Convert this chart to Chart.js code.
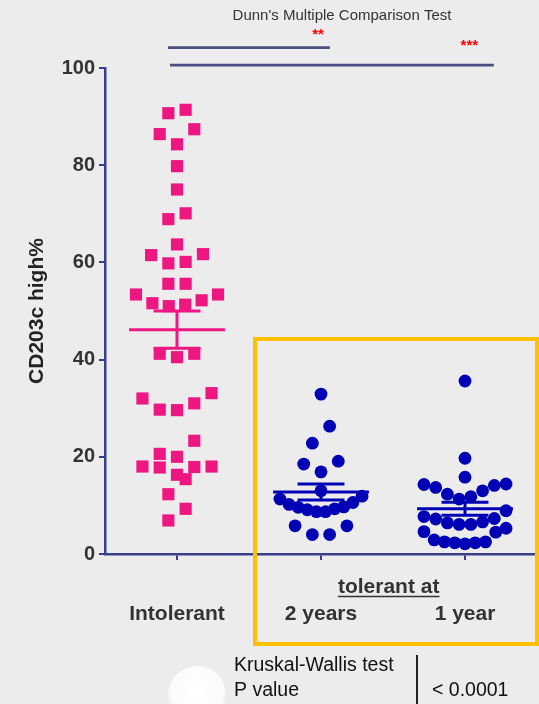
<!DOCTYPE html>
<html>
<head>
<meta charset="utf-8">
<script src="https://cdn.jsdelivr.net/npm/chart.js@4.4.1/dist/chart.umd.min.js"></script>
<style>
  html, body { margin: 0; padding: 0; background: #EDECED; }
  #wrap { position: relative; width: 539px; height: 704px; overflow: hidden; background: #EDECED; }
  #knob { position: absolute; left: 168px; top: 666px; width: 58px; height: 56px; border-radius: 50%;
          background: radial-gradient(circle at 50% 45%, #ffffff 0%, #fbfbfb 62%, #dcdcdc 85%, rgba(237,236,237,0) 100%); }
  canvas { position: absolute; left: 0; top: 0; }
</style>
</head>
<body>
<div id="wrap">
  <div id="knob"></div>
  <canvas id="chart" width="539" height="704"></canvas>
</div>
<script>
// Groups along the x axis
const categories = ['Intolerant', '2 years', '1 year'];

// CD203c high% per subject
const intolerant = [
  91.4, 90.7, 87.4, 86.4, 84.3, 79.8, 75.0, 70.1, 68.9,
  63.7, 61.7, 61.5, 60.1, 59.8, 55.6, 55.6, 53.4, 53.4, 52.2, 51.6, 51.3, 51.0,
  41.2, 41.2, 40.5,
  33.1, 32.0, 31.0, 29.7, 29.6, 23.3, 20.6, 20.0,
  18.0, 18.0, 17.9, 17.8, 16.3, 15.4, 12.3, 9.3, 6.9
];
const tolerant2y = [
  32.9, 26.3, 22.8, 19.1, 18.5, 16.9, 13.0, 11.9, 11.3,
  10.6, 10.2, 9.7, 9.6, 9.3, 9.1, 8.7, 8.7,
  5.8, 5.8, 4.0, 4.0
];
const tolerant1y = [
  35.6, 19.7, 15.8,
  14.4, 14.3, 14.1, 13.7, 13.0, 12.3, 11.8, 11.3,
  8.9, 7.7, 7.3, 7.2, 6.6, 6.4, 6.1, 6.1,
  5.3, 4.6, 4.5, 2.9, 2.5, 2.5, 2.3, 2.3, 2.1
];

const yTicks = [0, 20, 40, 60, 80, 100];

const PINK = '#EE1782';
const BLUE = '#0000B4';
const AXIS = '#383E8C';
const FONT = '"Liberation Sans", Arial, Helvetica, sans-serif';

// Column-scatter layout: values closer than ROW_BAND share a row and are
// spread sideways from the column centre, smallest values innermost.
const ROW_BAND = 3.6;
const STEP = 0.12;
const MAX_SPAN = 0.57;

function columnScatter(values, center) {
  const sorted = [...values].sort((a, b) => a - b);
  const rows = [];
  let row = null;
  for (const v of sorted) {
    if (!row || v - row[0] > ROW_BAND) { row = [v]; rows.push(row); }
    else row.push(v);
  }
  const pts = [];
  for (const r of rows) {
    const n = r.length;
    const step = n > 1 ? Math.min(STEP, MAX_SPAN / (n - 1)) : 0;
    r.forEach((v, i) => {
      let slot;
      if (n % 2) slot = i === 0 ? 0 : (i % 2 ? -1 : 1) * Math.ceil(i / 2);
      else slot = (i % 2 ? 1 : -1) * (Math.floor(i / 2) + 0.5);
      pts.push({ x: center + slot * step, y: v });
    });
  }
  return pts;
}

// Mean line with SEM whiskers, as one broken polyline
const MEAN_HALF = 0.333;
const CAP_HALF = 0.163;
function meanSem(values, center) {
  const n = values.length;
  const mean = values.reduce((a, b) => a + b, 0) / n;
  const sd = Math.sqrt(values.reduce((a, b) => a + (b - mean) ** 2, 0) / (n - 1));
  const sem = sd / Math.sqrt(n);
  return [
    { x: center - MEAN_HALF, y: mean }, { x: center + MEAN_HALF, y: mean }, { x: center, y: null },
    { x: center - CAP_HALF, y: mean + sem }, { x: center + CAP_HALF, y: mean + sem }, { x: center, y: null },
    { x: center - CAP_HALF, y: mean - sem }, { x: center + CAP_HALF, y: mean - sem }, { x: center, y: null },
    { x: center, y: mean - sem }, { x: center, y: mean + sem }
  ];
}

const groups = [
  { values: intolerant, color: PINK, style: 'rect', radius: 8.6 },
  { values: tolerant2y, color: BLUE, style: 'circle', radius: 6.4 },
  { values: tolerant1y, color: BLUE, style: 'circle', radius: 6.4 }
];

const datasets = [];
groups.forEach((g, i) => {
  datasets.push({
    data: columnScatter(g.values, i),
    pointStyle: g.style, pointRadius: g.radius,
    backgroundColor: g.color, borderColor: g.color, borderWidth: 0,
    order: 2
  });
  datasets.push({
    data: meanSem(g.values, i),
    showLine: true, spanGaps: false, pointRadius: 0,
    borderColor: g.color, borderWidth: 3, borderCapStyle: 'butt',
    order: 1
  });
});

// Annotations: test title, significance bars, grouping box, test table
const annotations = {
  id: 'annotations',
  afterDraw(chart) {
    const { ctx, scales: { x, y } } = chart;
    ctx.save();

    ctx.fillStyle = '#333333';
    ctx.font = '15px ' + FONT;
    ctx.textAlign = 'center';
    ctx.textBaseline = 'middle';
    ctx.fillText("Dunn's Multiple Comparison Test", 342, 16);

    ctx.strokeStyle = '#4B4F80';
    ctx.lineWidth = 2.6;
    const bars = [
      { from: -0.062, to: 1.062, level: 104.2, stars: '**', sx: 0.98, sy: 35 },
      { from: -0.049, to: 2.2, level: 100.6, stars: '***', sx: 2.03, sy: 46 }
    ];
    for (const b of bars) {
      const py = y.getPixelForValue(b.level);
      ctx.beginPath();
      ctx.moveTo(x.getPixelForValue(b.from), py);
      ctx.lineTo(x.getPixelForValue(b.to), py);
      ctx.stroke();
      ctx.fillStyle = '#FF0000';
      ctx.font = 'bold 15px ' + FONT;
      ctx.fillText(b.stars, x.getPixelForValue(b.sx), b.sy);
    }

    // "tolerant at" heading over the two tolerant groups
    ctx.fillStyle = '#333333';
    ctx.font = 'bold 21px ' + FONT;
    const hx = x.getPixelForValue(1.47);
    ctx.fillText('tolerant at', hx, 587);
    const hw = ctx.measureText('tolerant at').width;
    ctx.strokeStyle = '#333333';
    ctx.lineWidth = 1.5;
    ctx.beginPath();
    ctx.moveTo(hx - hw / 2, 596.5);
    ctx.lineTo(hx + hw / 2, 596.5);
    ctx.stroke();

    ctx.strokeStyle = '#FFC000';
    ctx.lineWidth = 4;
    ctx.strokeRect(255, 339, 282, 305);

    // Kruskal-Wallis summary
    ctx.fillStyle = '#111111';
    ctx.font = '19.5px ' + FONT;
    ctx.textAlign = 'left';
    ctx.fillText('Kruskal-Wallis test', 234, 666);
    ctx.fillText('P value', 234, 691);
    ctx.fillText('< 0.0001', 432, 691);
    ctx.strokeStyle = '#222222';
    ctx.lineWidth = 2;
    ctx.beginPath();
    ctx.moveTo(417, 655);
    ctx.lineTo(417, 704);
    ctx.stroke();

    ctx.restore();
  }
};

new Chart(document.getElementById('chart'), {
  type: 'scatter',
  data: { datasets },
  options: {
    responsive: false,
    animation: false,
    devicePixelRatio: 1,
    layout: { autoPadding: false, padding: { top: 68, right: 2, left: 0, bottom: 0 } },
    plugins: { legend: { display: false }, tooltip: { enabled: false } },
    scales: {
      x: {
        type: 'linear', min: -0.5, max: 2.5,
        afterBuildTicks: s => { s.ticks = categories.map((_, i) => ({ value: i })); },
        afterFit: s => { s.height = 150; },
        ticks: {
          callback: v => categories[v],
          font: { family: FONT, weight: 'bold', size: 21 },
          color: '#333333', padding: 42, maxRotation: 0, autoSkip: false
        },
        grid: { drawOnChartArea: false, drawTicks: true, tickLength: 6, color: AXIS, lineWidth: 2 },
        border: { display: true, color: AXIS, width: 2.5 }
      },
      y: {
        min: 0, max: 100,
        afterBuildTicks: s => { s.ticks = yTicks.map(v => ({ value: v })); },
        afterFit: s => { s.width = 105; },
        ticks: {
          font: { family: FONT, weight: 'bold', size: 20 },
          color: '#333333', padding: 4
        },
        grid: { drawOnChartArea: false, drawTicks: true, tickLength: 6, color: AXIS, lineWidth: 2 },
        border: { display: true, color: AXIS, width: 2.5 },
        title: {
          display: true, text: 'CD203c high%',
          font: { family: FONT, weight: 'bold', size: 21 },
          color: '#222222', padding: { top: 25, bottom: 0 }
        }
      }
    }
  },
  plugins: [annotations]
});
</script>
</body>
</html>
